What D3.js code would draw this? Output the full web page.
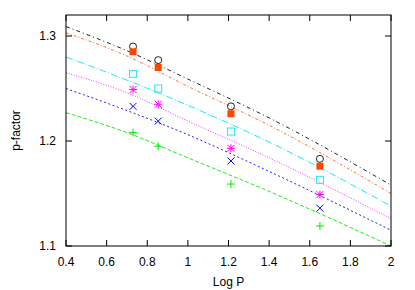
<!DOCTYPE html>
<html>
<head>
<meta charset="utf-8">
<script src="https://cdn.jsdelivr.net/npm/d3@7"></script>
<style>
  body { margin: 0; background: #fff; }
  text { font-family: "Liberation Sans", Arial, sans-serif; font-size: 12px; fill: #000; }
</style>
</head>
<body>
<div id="chart"></div>
<script>
var w = 415,
    h = 290,
    m = [15, 24, 44, 66]; // top right bottom left

// curves, read at these log P stations
var curveX = [0.4, 0.7, 1.0, 1.4, 2.0];
var blackCurve   = [1.309, 1.286, 1.259, 1.222, 1.158];
var orangeCurve  = [1.303, 1.281, 1.252, 1.215, 1.150];
var cyanCurve    = [1.280, 1.258, 1.234, 1.199, 1.138];
var magentaCurve = [1.265, 1.246, 1.219, 1.184, 1.126];
var blueCurve    = [1.250, 1.229, 1.206, 1.171, 1.115];
var greenCurve   = [1.227, 1.208, 1.184, 1.152, 1.100];

// points
var pointX = [0.73, 0.854, 1.212, 1.65];
var circles  = [1.290, 1.277, 1.233, 1.183];
var filledSq = [1.285, 1.270, 1.226, 1.176];
var openSq   = [1.264, 1.250, 1.209, 1.163];
var stars    = [1.249, 1.235, 1.193, 1.149];
var crosses  = [1.233, 1.219, 1.181, 1.136];
var pluses   = [1.208, 1.195, 1.159, 1.119];

var xTicks = [0.4, 0.6, 0.8, 1, 1.2, 1.4, 1.6, 1.8, 2];
var yTicks = [1.1, 1.2, 1.3];

var iw = w - m[1] - m[3], ih = h - m[0] - m[2];

var x = d3.scaleLinear().domain([0.4, 2]).range([0, iw]);
var y = d3.scaleLinear().domain([1.1, 1.32]).range([ih, 0]);

var svg = d3.select("#chart").append("svg")
    .attr("width", w)
    .attr("height", h);

var g = svg.append("g")
    .attr("transform", "translate(" + m[3] + "," + m[0] + ")");

// clip for curves
svg.append("defs").append("clipPath").attr("id", "clip")
  .append("rect").attr("width", iw).attr("height", ih);

var curves = [
  {v: blackCurve,   c: "#222222", d: "4,3,1,3"},
  {v: orangeCurve,  c: "#ff7040", d: "3,2,1,2"},
  {v: cyanCurve,    c: "#20e8f4", d: "7,2,1,2"},
  {v: magentaCurve, c: "#ff30ff", d: "1,1.6"},
  {v: blueCurve,    c: "#2020ff", d: "2,2.5"},
  {v: greenCurve,   c: "#20ee20", d: "4,2"}
];

var line = d3.line()
    .x(function(d) { return x(d[0]); })
    .y(function(d) { return y(d[1]); })
    .curve(d3.curveMonotoneX);

g.append("g").attr("clip-path", "url(#clip)")
  .selectAll("path")
    .data(curves)
  .enter().append("path")
    .attr("fill", "none")
    .attr("stroke", function(d) { return d.c; })
    .attr("stroke-width", 1)
    .attr("stroke-dasharray", function(d) { return d.d; })
    .attr("d", function(d) { return line(curveX.map(function(xv, i) { return [xv, d.v[i]]; })); });

// markers
function pts(arr) { return pointX.map(function(xv, i) { return [xv, arr[i]]; }); }

g.selectAll(".circ").data(pts(circles)).enter().append("circle")
    .attr("cx", function(d) { return x(d[0]); })
    .attr("cy", function(d) { return y(d[1]); })
    .attr("r", 3.5)
    .attr("fill", "none").attr("stroke", "#222").attr("stroke-width", 1);

g.selectAll(".fsq").data(pts(filledSq)).enter().append("rect")
    .attr("x", function(d) { return x(d[0]) - 3.5; })
    .attr("y", function(d) { return y(d[1]) - 3.5; })
    .attr("width", 7).attr("height", 7)
    .attr("fill", "#ff4500");

g.selectAll(".osq").data(pts(openSq)).enter().append("rect")
    .attr("x", function(d) { return x(d[0]) - 3.5; })
    .attr("y", function(d) { return y(d[1]) - 3.5; })
    .attr("width", 7).attr("height", 7)
    .attr("fill", "none").attr("stroke", "#20e8f4").attr("stroke-width", 1);

function glyph(arr, color, path) {
  g.append("g").selectAll("path").data(pts(arr)).enter().append("path")
      .attr("transform", function(d) { return "translate(" + x(d[0]) + "," + y(d[1]) + ")"; })
      .attr("d", path)
      .attr("fill", "none").attr("stroke", color).attr("stroke-width", 1);
}
var plusPath = "M-4,0H4M0,-4V4";
var crossPath = "M-3.5,-3.5L3.5,3.5M-3.5,3.5L3.5,-3.5";
glyph(stars, "#ff00ff", plusPath + crossPath);
glyph(crosses, "#0000ff", crossPath);
glyph(pluses, "#00ee00", plusPath);

// frame
g.append("rect")
    .attr("width", iw).attr("height", ih)
    .attr("fill", "none").attr("stroke", "#000").attr("stroke-width", 1);

// ticks inside, mirrored
var tk = 6;
xTicks.forEach(function(t) {
  g.append("line").attr("x1", x(t)).attr("x2", x(t)).attr("y1", ih).attr("y2", ih - tk).attr("stroke", "#000");
  g.append("line").attr("x1", x(t)).attr("x2", x(t)).attr("y1", 0).attr("y2", tk).attr("stroke", "#000");
  g.append("text").attr("x", x(t)).attr("y", ih + 20)
      .attr("text-anchor", "middle").text(d3.format("")(t));
});
yTicks.forEach(function(t) {
  g.append("line").attr("x1", 0).attr("x2", tk).attr("y1", y(t)).attr("y2", y(t)).attr("stroke", "#000");
  g.append("line").attr("x1", iw).attr("x2", iw - tk).attr("y1", y(t)).attr("y2", y(t)).attr("stroke", "#000");
  g.append("text").attr("x", -10).attr("y", y(t)).attr("dy", "0.35em")
      .attr("text-anchor", "end").text(t.toFixed(1));
});

// axis titles
g.append("text").attr("x", iw / 2).attr("y", ih + 40)
    .attr("text-anchor", "middle").text("Log P");
svg.append("text")
    .attr("transform", "translate(20," + (m[0] + ih / 2) + ") rotate(-90)")
    .attr("text-anchor", "middle").text("p-factor");
</script>
</body>
</html>
